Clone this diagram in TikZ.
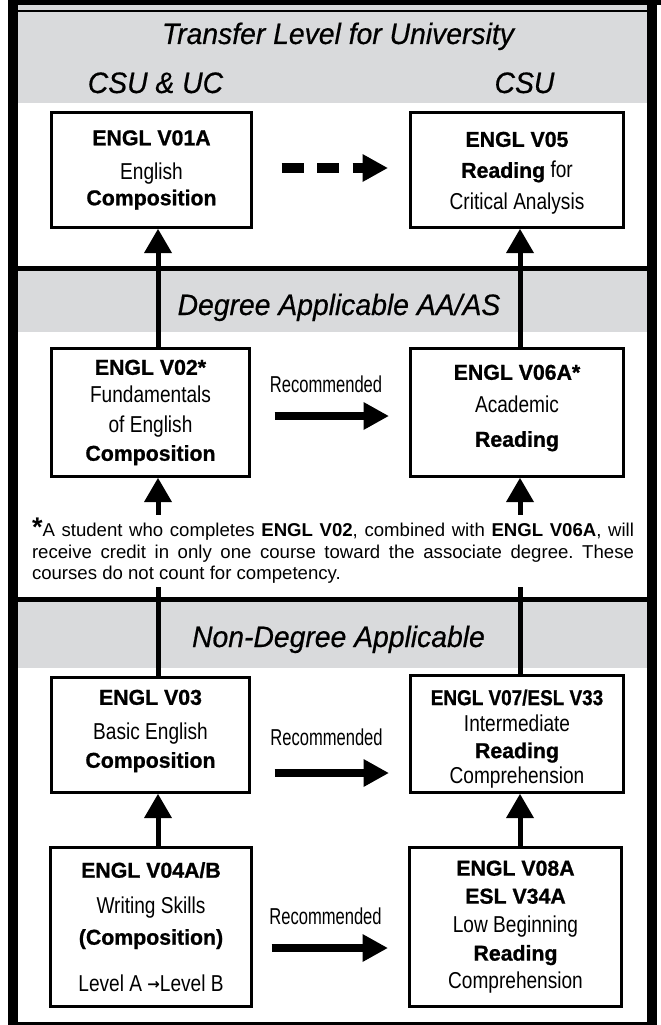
\documentclass[tikz,border=0pt]{standalone}
\usepackage{fontspec}
\setmainfont{Liberation Sans}
\newfontfamily\cnr[FakeStretch=0.83]{Liberation Sans}
\newfontfamily\cnb[FakeStretch=0.99,FakeBold=0.9]{Liberation Sans}
\newfontfamily\cnbx[FakeStretch=0.88,FakeBold=0.9]{Liberation Sans}
\newfontfamily\rcm[FakeStretch=0.72]{Liberation Sans}
\newfontfamily\ttl[FakeStretch=0.96,FakeBold=0.5]{Liberation Sans}
\newfontfamily\dv{DejaVu Sans}
\usetikzlibrary{arrows.meta}
\definecolor{band}{RGB}{217,218,220}
\newcommand\bb[1]{{\fontsize{21.5}{26}\selectfont\cnb\bfseries #1}}
\tikzset{
  box/.style={draw, line width=3pt, fill=white, inner sep=0pt, align=center,
    font=\fontsize{23}{26}\selectfont\cnr},
  ttlnode/.style={font=\fontsize{29.5}{30}\selectfont\ttl\itshape, anchor=base, inner sep=0pt},
  recnode/.style={font=\fontsize{23}{24}\selectfont\rcm, anchor=base, inner sep=0pt},
  notenode/.style={text width=602pt, minimum height=72pt, inner sep=0pt, align=justify,
    font=\fontsize{18.6}{21.5}\selectfont},
  uparr/.style={line width=5pt, -{Triangle[width=28pt,length=24pt,line width=0pt]}},
  recarr/.style={line width=8.5pt, -{Triangle[width=28pt,length=25pt,line width=0pt]}},
  dasharr/.style={line width=9.5pt, dash pattern=on 22pt off 13.5pt,
    -{Triangle[width=28pt,length=25pt,line width=0pt]}},
  vline/.style={line width=5pt}
}
\begin{document}
\begin{tikzpicture}[x=1pt,y=-1pt]
\useasboundingbox (0,0) rectangle (661,1025);
% bands
\fill[band] (18,5) rectangle (647,103);
\draw[line width=2pt] (18,11) -- (647,11);
\fill[band] (18,270) rectangle (647,332);
\fill[band] (18,602) rectangle (647,668);
\fill (18,265.5) rectangle (647,270.5);
\fill (18,597) rectangle (647,602);
% frame
\fill (8,0) rectangle (18,1025);
\fill (647,0) rectangle (657,1025);
\fill (8,0) rectangle (661,5);
\fill (8,1021.5) rectangle (657,1025);
% titles
\node[ttlnode] (t1) at (338,44) {Transfer Level for University};
\node[ttlnode] (t1a) at (155.5,93) {CSU \& UC};
\node[ttlnode] (t1b) at (524.5,93) {CSU};
\node[ttlnode] (t2) at (339,315) {Degree Applicable AA/AS};
\node[ttlnode] (t3) at (338.5,647) {Non-Degree Applicable};
% boxes
\node[box, minimum width=200pt, minimum height=115pt] (v01a) at (151.5,170)
  {\bb{ENGL V01A}\\[8pt] English\\ \bb{Composition}};
\node[box, minimum width=213pt, minimum height=115pt] (v05) at (517,170)
  {\rule{0pt}{21.4pt}\bb{ENGL V05}\\[5pt] \bb{Reading} for\\[6pt] Critical Analysis};
\node[box, minimum width=198pt, minimum height=128pt] (v02) at (150.5,412.5)
  {\bb{ENGL V02*}\\[2pt] Fundamentals\\[4pt] of English\\[2pt] \bb{Composition}};
\node[box, minimum width=213pt, minimum height=128pt] (v06a) at (517,412.5)
  {\bb{ENGL V06A*}\\[7pt] Academic\\[8pt] \bb{Reading}\rule[-13.5pt]{0pt}{0pt}};
\node[box, minimum width=198pt, minimum height=115pt] (v03) at (150.5,735)
  {\bb{ENGL V03}\\[9pt] Basic English\\[2pt] \bb{Composition}\rule[-12.5pt]{0pt}{0pt}};
\node[box, minimum width=213pt, minimum height=117pt] (v07) at (517,734)
  {\rule{0pt}{25pt}{\fontsize{21.5}{26}\selectfont\cnbx\bfseries ENGL V07/ESL V33}\\ Intermediate\\[1pt] \bb{Reading}\\[-1pt] Comprehension};
\node[box, minimum width=201pt, minimum height=159pt] (v04) at (151,927)
  {\bb{ENGL V04A/B}\\[10pt] Writing Skills\\[5pt] \bb{(Composition)}\\[21pt] Level A \raisebox{2.5pt}{\dv\bfseries\fontsize{15}{0}\selectfont →}Level B};
\node[box, minimum width=212pt, minimum height=159pt] (v08) at (515.5,927)
  {\bb{ENGL V08A}\\[2pt] \bb{ESL V34A}\\[3pt] Low Beginning\\[2pt] \bb{Reading}\\[2pt] Comprehension};
% labels
\node[recnode] (r1) at (326,392) {Recommended};
\node[recnode] (r2) at (326.5,745) {Recommended};
\node[recnode] (r3) at (325.5,924) {Recommended};
% note
\node[notenode] (note) at (333,551)
  {\noindent\frenchspacing\hyphenpenalty=10000{\fontsize{27}{0}\selectfont\bfseries *}A student who completes \textbf{ENGL V02}, combined with \textbf{ENGL V06A}, will\linebreak receive credit in only one course toward the associate degree. These\linebreak courses do not count for competency.};
% connectors
\coordinate (lx) at (158,0);
\coordinate (rx) at (520,0);
\draw[uparr] (v02.north -| lx) -- (v01a.south -| lx);
\draw[uparr] (v06a.north -| rx) -- (v05.south -| rx);
\draw[uparr] (note.north -| lx) -- (v02.south -| lx);
\draw[uparr] (note.north -| rx) -- (v06a.south -| rx);
\draw[vline] (v03.north -| lx) -- (note.south -| lx);
\draw[vline] (v07.north -| rx) -- (note.south -| rx);
\draw[uparr] (v04.north -| lx) -- (v03.south -| lx);
\draw[uparr] (v08.north -| rx) -- (v07.south -| rx);
\draw[dasharr, shorten <=28.5pt, shorten >=21.5pt] ([yshift=2pt]v01a.east) -- ([yshift=2pt]v05.west);
\draw[recarr, shorten <=23.5pt, shorten >=20.5pt] ([yshift=-3.5pt]v02.east) -- ([yshift=-3.5pt]v06a.west);
\draw[recarr, shorten <=23.5pt, shorten >=20.5pt] ([yshift=-38pt]v03.east) -- ([yshift=-39pt]v07.west);
\draw[recarr, shorten <=18.5pt, shorten >=20.5pt] ([yshift=-21pt]v04.east) -- ([yshift=-21pt]v08.west);
\end{tikzpicture}
\end{document}
